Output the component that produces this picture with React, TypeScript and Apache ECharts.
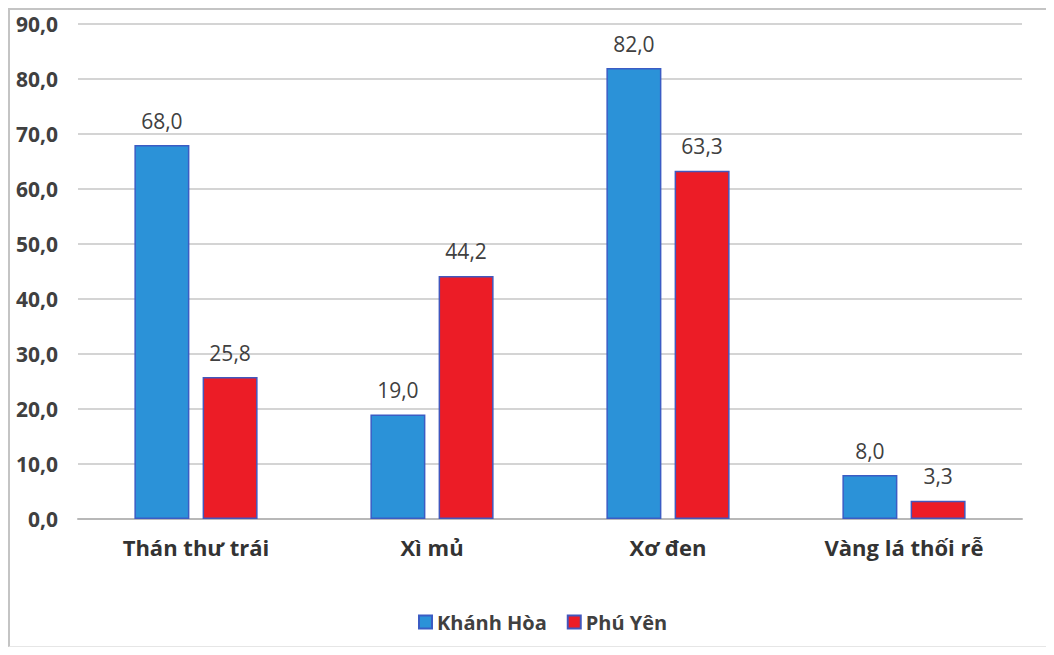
import React, { useEffect, useRef } from "react";
import * as echarts from "echarts";

const categories = ["Thán thư trái", "Xì mủ", "Xơ đen", "Vàng lá thối rễ"];
const khanhHoa = [68.0, 19.0, 82.0, 8.0];
const phuYen = [25.8, 44.2, 63.3, 3.3];
const seriesNames = ["Khánh Hòa", "Phú Yên"];

const fmt = (v: number) => v.toFixed(1).replace(".", ",");

export default function App() {
  const ref = useRef<HTMLDivElement>(null);
  useEffect(() => {
    const chart = echarts.init(ref.current!, null, { renderer: "svg" });
    const font = "'Open Sans', 'Noto Sans', sans-serif";
    const labelCfg = {
      show: true,
      position: "top",
      distance: 14,
      fontFamily: font,
      fontSize: 21,
      color: "#404040",
      formatter: (p: any) => fmt(p.value),
    };
    chart.setOption({
      animation: false,
      backgroundColor: "#ffffff",
      textStyle: { fontFamily: font },
      grid: { left: 68, right: 32, top: 14, bottom: 127 },
      legend: {
        left: 403,
        top: 597,
        itemWidth: 13,
        itemHeight: 13,
        itemGap: 20,
        icon: "rect",
        textStyle: { fontFamily: font, fontWeight: "bold", fontSize: 20, color: "#404040" },
        data: seriesNames,
      },
      xAxis: {
        type: "category",
        data: categories,
        axisTick: { show: false },
        axisLine: { lineStyle: { color: "#b8b8b8", width: 2 } },
        axisLabel: { fontFamily: font, fontWeight: "bold", fontSize: 22, color: "#333333", margin: 17 },
      },
      yAxis: {
        type: "value",
        min: 0,
        max: 90,
        interval: 10,
        axisLine: { show: false },
        axisTick: { show: false },
        splitLine: { lineStyle: { color: "#d4d4d4", width: 2 } },
        axisLabel: {
          fontFamily: font,
          fontWeight: "bold",
          fontSize: 21,
          color: "#404040",
          margin: 20,
          formatter: (v: number) => fmt(v),
        },
      },
      series: [
        {
          name: seriesNames[0],
          type: "bar",
          data: khanhHoa,
          barWidth: 55,
          barGap: "24%",
          itemStyle: { color: "#2b92d8", borderColor: "#3b5cc4", borderWidth: 1.5 },
          label: labelCfg,
        },
        {
          name: seriesNames[1],
          type: "bar",
          data: phuYen,
          barWidth: 55,
          itemStyle: { color: "#ec1c26", borderColor: "#4257bd", borderWidth: 1.5 },
          label: labelCfg,
        },
      ],
    });
    return () => chart.dispose();
  }, []);
  return (
    <div
      style={{
        width: 1046,
        height: 639,
        boxSizing: "border-box",
        borderLeft: "2px solid #c4c4c4",
        borderTop: "2px solid #c4c4c4",
        borderBottom: "1px solid #e6e6e6",
        background: "#fff",
      }}
    >
      <div ref={ref} style={{ width: 1044, height: 636 }} />
    </div>
  );
}
